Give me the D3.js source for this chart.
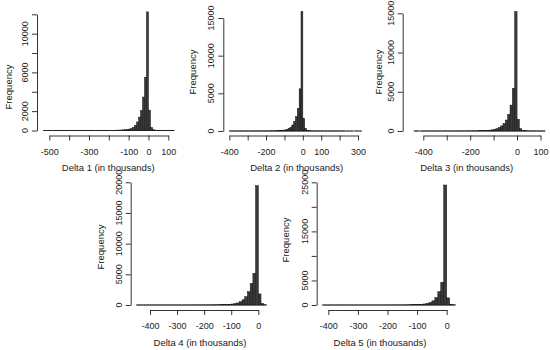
<!DOCTYPE html>
<html>
<head>
<meta charset="utf-8">
<script src="https://cdn.jsdelivr.net/npm/d3@7"></script>
<style>
  body { margin: 0; background: #fff; }
  svg { display: block; font-family: "Liberation Sans", Arial, sans-serif; }
  .axis path, .axis line { stroke: #000; stroke-width: 0.8; }
  .lbl { fill: #222; font-size: 9px; }
  .ttl { fill: #222; font-size: 9.5px; }
</style>
</head>
<body>
<svg id="chart" width="550" height="350"></svg>
<script>
// histogram counts, bins 10 (thousands) wide, first bin starts at binStart
const delta1Start = -530;
const delta1Counts = [1, 0, 1, 1, 0, 1, 1, 1, 1, 1,
  1, 2, 1, 2, 2, 2, 2, 3, 3, 3,
  3, 4, 4, 4, 5, 5, 6, 7, 8, 9,
  11, 13, 15, 18, 21, 25, 29, 35, 42, 52,
  64, 80, 105, 145, 200, 330, 540, 880, 1380, 2070,
  3450, 5500, 12250,
  2100, 300, 80, 35, 18, 10, 6, 4, 3, 2, 1, 1, 1];

const delta2Start = -400;
const delta2Counts = [1, 1, 1, 1, 1, 2, 1, 2, 2, 2,
  3, 3, 3, 4, 4, 5, 5, 6, 7, 8,
  12, 14, 17, 20, 25, 31, 40, 55, 75, 105,
  150, 220, 330, 500, 800, 1250, 1900, 3000, 5600, 15850,
  1650, 350, 100, 40, 20, 12, 8, 6, 5, 4, 3, 3, 2, 2, 2, 2,
  1, 1, 1, 1, 1, 1, 1, 0, 1, 0, 1, 0, 0, 1, 0, 1];

const delta3Start = -440;
const delta3Counts = [1, 1, 0, 1, 1, 1, 1, 1, 2, 1,
  2, 2, 2, 3, 3, 3, 4, 4, 5, 6,
  7, 8, 9, 11, 13, 16, 20, 26, 33, 42,
  55, 78, 110, 150, 210, 300, 440, 650, 950, 1400, 2100, 3300, 5440, 15200,
  1500, 300, 90, 35, 18, 10, 6, 4, 3, 2, 1, 1];

const delta4Start = -450;
const delta4Counts = [1, 1, 1, 1, 1, 1, 1, 1, 1, 2,
  1, 2, 2, 2, 2, 3, 3, 3, 4, 4,
  6, 7, 8, 9, 11, 13, 16, 20, 25, 31,
  40, 50, 65, 85, 115, 160, 230, 340, 540, 850, 1350, 2170, 3500, 5170, 19450,
  1800, 250, 40];

const delta5Start = -420;
const delta5Counts = [1, 1, 1, 1, 1, 1, 1, 1, 1, 1,
  2, 1, 2, 2, 2, 2, 3, 3, 3, 4,
  5, 6, 7, 9, 11, 14, 18, 23, 30, 42,
  60, 80, 110, 150, 210, 320, 500, 850, 1500, 2700, 4620, 24450,
  1450, 150, 30];

const binWidth = 10;

// tick values and the ones R actually printed
const xTicks = [
  [-500, -400, -300, -200, -100, 0, 100],
  [-400, -300, -200, -100, 0, 100, 200, 300],
  [-400, -300, -200, -100, 0, 100],
  [-400, -300, -200, -100, 0],
  [-400, -300, -200, -100, 0]
];
const xLabels = [
  [-500, -300, -100, 0, 100],
  [-400, -200, 0, 100, 300],
  [-400, -200, 0, 100],
  [-400, -300, -200, -100, 0],
  [-400, -300, -200, -100, 0]
];
const yTicks = [
  [0, 2000, 4000, 6000, 8000, 10000, 12000],
  [0, 5000, 10000, 15000],
  [0, 5000, 10000, 15000],
  [0, 5000, 10000, 15000, 20000],
  [0, 5000, 10000, 15000, 20000, 25000]
];
const yLabels = [
  [0, 2000, 6000, 10000],
  [0, 5000, 10000, 15000],
  [0, 5000, 10000, 15000],
  [0, 5000, 10000, 15000, 20000],
  [0, 5000, 15000, 25000]
];
const titles = ['Delta 1 (in thousands)', 'Delta 2 (in thousands)', 'Delta 3 (in thousands)',
  'Delta 4 (in thousands)', 'Delta 5 (in thousands)'];

const starts = [delta1Start, delta2Start, delta3Start, delta4Start, delta5Start];
const counts = [delta1Counts, delta2Counts, delta3Counts, delta4Counts, delta5Counts];

const layout = [
  { xr: [49.3, 168.3], yr: [130.5, 14.3], axX: 37, axY: 135.5, tx: 108.3, ty: 167, fx: 8, fy: 87 },
  { xr: [229.3, 358], yr: [131, 18], axX: 223.3, axY: 135.5, tx: 296.7, ty: 167, fx: 192, fy: 72 },
  { xr: [423.3, 540.5], yr: [131, 13.3], axX: 402.7, axY: 135.5, tx: 466.7, ty: 167, fx: 378.5, fy: 72 },
  { xr: [150, 258.3], yr: [305, 182.3], axX: 130.7, axY: 310, tx: 200, ty: 342, fx: 100, fy: 247 },
  { xr: [328.3, 446.7], yr: [305, 182.3], axX: 316.7, axY: 310, tx: 380, ty: 342, fx: 285, fy: 240 }
];

const svg = d3.select('#chart');

counts.forEach((data, i) => {
  const L = layout[i];
  const xt = xTicks[i], yt = yTicks[i];
  const x = d3.scaleLinear().domain([xt[0], xt[xt.length - 1]]).range(L.xr);
  const y = d3.scaleLinear().domain([yt[0], yt[yt.length - 1]]).range(L.yr);
  const bins = data.map((c, k) => ({ x0: starts[i] + k * binWidth, n: c }));
  const g = svg.append('g');

  // baseline of the empty bins
  g.append('line')
      .attr('x1', x(bins[0].x0))
      .attr('x2', x(bins[bins.length - 1].x0 + binWidth))
      .attr('y1', y(0)).attr('y2', y(0))
      .attr('stroke', '#000').attr('stroke-width', 0.8);

  g.selectAll('rect')
      .data(bins.filter(d => d.n > 0))
      .enter().append('rect')
      .attr('x', d => x(d.x0))
      .attr('width', d => x(d.x0 + binWidth) - x(d.x0))
      .attr('y', d => y(d.n))
      .attr('height', d => y(0) - y(d.n))
      .attr('fill', '#3a3a3a')
      .attr('stroke', '#111')
      .attr('stroke-width', 0.5);

  // x axis
  g.append('g')
      .attr('class', 'axis')
      .attr('transform', `translate(0,${L.axY})`)
      .call(d3.axisBottom(x).tickValues(xt).tickSize(5).tickSizeOuter(0)
        .tickFormat(d => xLabels[i].includes(d) ? String(d) : ''))
      .call(s => s.selectAll('text').attr('class', 'lbl').attr('fill', null).attr('dy', null).attr('y', 19))
      .attr('font-size', null).attr('font-family', null);

  // y axis, labels rotated like R's default las=0
  const ya = g.append('g')
      .attr('class', 'axis')
      .attr('transform', `translate(${L.axX},0)`)
      .call(d3.axisLeft(y).tickValues(yt).tickSize(5).tickSizeOuter(0).tickFormat(''))
      .attr('font-size', null).attr('font-family', null);
  ya.selectAll('.ylab')
      .data(yLabels[i])
      .enter().append('text')
      .attr('class', 'lbl')
      .attr('text-anchor', 'middle')
      .attr('transform', d => `translate(-9,${y(d)}) rotate(-90)`)
      .text(d => d);

  g.append('text')
      .attr('class', 'ttl')
      .attr('text-anchor', 'middle')
      .attr('x', L.tx).attr('y', L.ty + 3.5)
      .text(titles[i]);

  g.append('text')
      .attr('class', 'ttl')
      .attr('text-anchor', 'middle')
      .attr('transform', `translate(${L.fx + 3.5},${L.fy}) rotate(-90)`)
      .text('Frequency');
});
</script>
</body>
</html>
